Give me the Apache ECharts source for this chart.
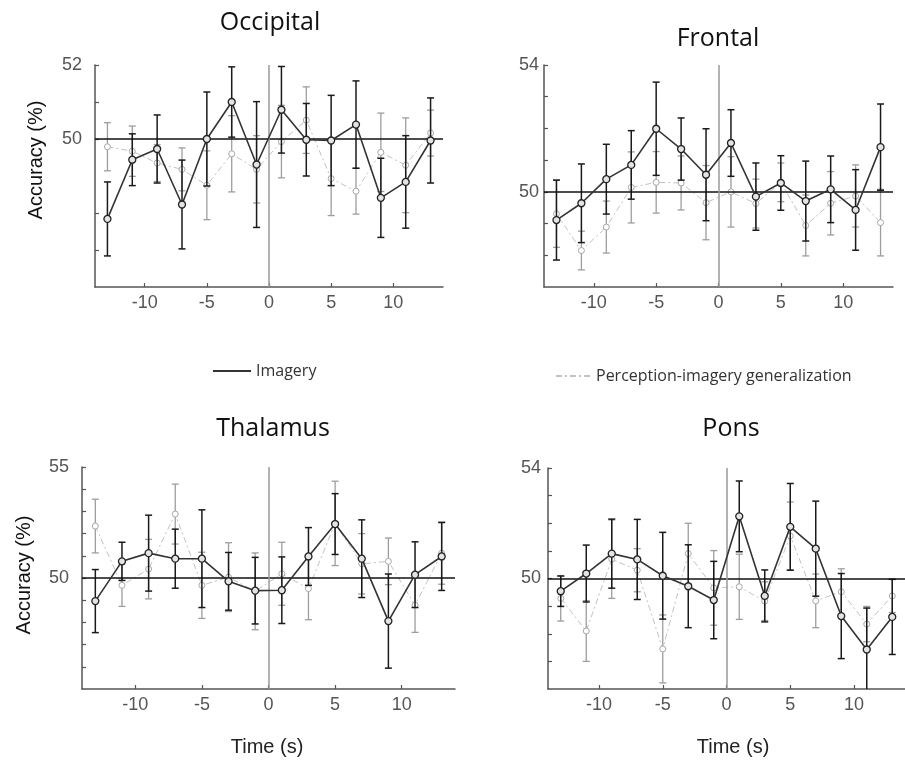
<!DOCTYPE html>
<html><head><meta charset="utf-8">
<script src="https://cdn.jsdelivr.net/npm/echarts@6/dist/echarts.min.js"></script>
<style>html,body{margin:0;padding:0;background:#fff}#c{width:905px;height:760px}</style>
</head><body><div id="c"></div>
<script>
// ---- data ----
const time = [-13, -11, -9, -7, -5, -3, -1, 1, 3, 5, 7, 9, 11, 13];
const panelNames = ['Occipital', 'Frontal', 'Thalamus', 'Pons'];

const occImagery = [47.84, 49.44, 49.73, 48.23, 50.00, 51.00, 49.31, 50.79, 49.98, 49.96, 50.39, 48.41, 48.84, 49.96];
const occImageryErr = [1.00, 0.70, 0.92, 1.20, 1.27, 0.95, 1.70, 1.17, 0.98, 1.22, 1.18, 1.07, 1.25, 1.15];
const occPercept = [49.79, 49.67, 49.35, 49.18, 48.75, 49.60, 49.18, 49.93, 50.51, 48.93, 48.59, 49.64, 49.29, 50.16];
const occPerceptErr = [0.65, 0.68, 0.50, 0.58, 0.93, 1.03, 0.91, 0.98, 0.90, 1.00, 0.62, 1.06, 1.28, 0.62];

const froImagery = [49.11, 49.64, 50.40, 50.85, 51.99, 51.35, 50.54, 51.54, 49.85, 50.28, 49.71, 50.08, 49.43, 51.41];
const froImageryErr = [1.26, 1.24, 1.10, 1.08, 1.47, 0.98, 1.45, 1.05, 1.06, 0.86, 1.26, 1.05, 1.27, 1.36];
const froPercept = [49.31, 48.15, 48.89, 50.14, 50.30, 50.28, 49.66, 50.00, 49.63, 50.30, 48.94, 49.64, 49.87, 49.03];
const froPerceptErr = [1.06, 0.61, 0.82, 1.12, 0.97, 0.85, 1.17, 1.11, 0.77, 0.61, 0.96, 1.00, 0.98, 1.05];

const thaImagery = [48.96, 50.75, 51.12, 50.87, 50.87, 49.85, 49.43, 49.45, 50.97, 52.43, 50.87, 48.06, 50.15, 50.97];
const thaImageryErr = [1.42, 0.86, 1.71, 1.33, 2.20, 1.30, 1.50, 1.50, 1.30, 1.37, 1.75, 2.12, 1.48, 1.53];
const thaPercept = [52.34, 49.67, 50.40, 52.88, 49.67, 50.04, 49.40, 50.19, 49.52, 52.46, 50.64, 50.75, 48.78, 51.12];
const thaPerceptErr = [1.21, 0.95, 1.34, 1.35, 1.49, 1.55, 1.73, 1.42, 1.40, 1.90, 1.36, 1.05, 1.23, 1.40];

const ponImagery = [49.54, 50.18, 50.90, 50.69, 50.10, 49.72, 49.22, 52.25, 49.37, 51.87, 51.08, 48.64, 47.43, 48.61];
const ponImageryErr = [0.55, 1.03, 1.25, 1.45, 1.57, 1.50, 1.40, 1.28, 0.94, 1.57, 1.72, 1.54, 1.50, 1.36];
const ponPercept = [49.28, 48.10, 50.70, 50.30, 47.45, 50.90, 49.66, 49.70, 49.18, 51.54, 49.19, 49.52, 48.35, 49.37];
const ponPerceptErr = [0.82, 1.10, 1.42, 0.78, 1.23, 1.10, 1.35, 1.18, 0.70, 1.23, 0.97, 0.83, 0.64, 0.60];

const xTicks = [-10, -5, 0, 5, 10];
const yMin = [46, 47, 45, 46];
const yMax = [52, 54, 55, 54];
const yTicks = [[47, 48, 50, 51, 52], [48, 49, 50, 51, 52, 53, 54], [46, 47, 48, 49, 50, 51, 52, 53, 54, 55], [47, 48, 49, 50, 51, 52, 53, 54]];
const yTickLabels = [[50, 52], [50, 54], [50, 55], [50, 54]];

const imagery = [occImagery, froImagery, thaImagery, ponImagery];
const imageryErr = [occImageryErr, froImageryErr, thaImageryErr, ponImageryErr];
const percept = [occPercept, froPercept, thaPercept, ponPercept];
const perceptErr = [occPerceptErr, froPerceptErr, thaPerceptErr, ponPerceptErr];

// ---- layout ----
const grids = [
  {left: 95, top: 65, width: 348, height: 222},
  {left: 544, top: 65, width: 349, height: 222},
  {left: 82, top: 467, width: 373, height: 222},
  {left: 548, top: 468, width: 367, height: 221}
];
const titlePos = [[270, 23], [718, 39], [273, 429], [731, 429]];
const yLabelMargin = [13, 5, 13, 7];

const axisColor = '#555';
const tickFont = 'Liberation Sans, Arial, sans-serif';

function errRenderer(color, width) {
  return function (params, api) {
    const x = api.value(0), y = api.value(1), e = api.value(2);
    const top = api.coord([x, y + e]);
    const bot = api.coord([x, y - e]);
    const w = 3.5;
    const style = {stroke: color, lineWidth: width};
    return {
      type: 'group',
      children: [
        {type: 'line', shape: {x1: top[0], y1: top[1], x2: bot[0], y2: bot[1]}, style: style},
        {type: 'line', shape: {x1: top[0] - w, y1: top[1], x2: top[0] + w, y2: top[1]}, style: style},
        {type: 'line', shape: {x1: bot[0] - w, y1: bot[1], x2: bot[0] + w, y2: bot[1]}, style: style}
      ]
    };
  };
}

const xAxes = [], yAxes = [], series = [], titles = [];
for (let i = 0; i < 4; i++) {
  titles.push({
    text: panelNames[i], left: titlePos[i][0], top: titlePos[i][1],
    textAlign: 'center', textVerticalAlign: 'middle', padding: 0,
    textStyle: {fontFamily: 'Open Sans', fontSize: 25, fontWeight: 'normal', color: '#111'}
  });
  xAxes.push({
    type: 'value', gridIndex: i, min: -14, max: 14,
    axisLine: {onZero: false, lineStyle: {color: axisColor, width: 1.5}},
    axisTick: {inside: true, length: 4, customValues: xTicks, lineStyle: {color: axisColor, width: 1.2}},
    axisLabel: {customValues: xTicks, fontSize: 18, color: '#555', fontFamily: tickFont, margin: 7},
    splitLine: {show: false}
  });
  yAxes.push({
    type: 'value', gridIndex: i, min: yMin[i], max: yMax[i],
    axisLine: {show: true, onZero: false, lineStyle: {color: axisColor, width: 1.5}},
    axisTick: {show: true, inside: true, length: 4, customValues: yTicks[i], lineStyle: {color: axisColor, width: 1.2}},
    axisLabel: {customValues: yTickLabels[i], fontSize: 18, color: '#555', fontFamily: tickFont, margin: yLabelMargin[i]},
    splitLine: {show: false}
  });
  // reference lines
  series.push({
    type: 'line', xAxisIndex: i, yAxisIndex: i, data: [], z: 1, silent: true,
    markLine: {
      silent: true, symbol: 'none', animation: false, label: {show: false},
      data: [
        {yAxis: 50, lineStyle: {color: '#111', width: 1.5, type: 'solid'}},
        {xAxis: 0, lineStyle: {color: '#9a9a9a', width: 1.5, type: 'solid'}}
      ]
    }
  });
  series.push({
    type: 'custom', name: 'perc-err-' + i, xAxisIndex: i, yAxisIndex: i, z: 2, clip: true,
    renderItem: errRenderer('#9d9d9d', 1.3),
    encode: {x: 0, y: 1},
    data: time.map((t, k) => [t, percept[i][k], perceptErr[i][k]])
  });
  series.push({
    type: 'line', name: 'Perception-imagery generalization', xAxisIndex: i, yAxisIndex: i, z: 3,
    symbol: 'circle', symbolSize: 6,
    itemStyle: {color: '#ffffff', borderColor: '#a8a8a8', borderWidth: 1},
    lineStyle: {color: '#c2c2c2', width: 1, type: [6, 3, 2, 3]},
    data: time.map((t, k) => [t, percept[i][k]])
  });
  series.push({
    type: 'custom', name: 'img-err-' + i, xAxisIndex: i, yAxisIndex: i, z: 4, clip: true,
    renderItem: errRenderer('#1a1a1a', 1.5),
    encode: {x: 0, y: 1},
    data: time.map((t, k) => [t, imagery[i][k], imageryErr[i][k]])
  });
  series.push({
    type: 'line', name: 'Imagery', xAxisIndex: i, yAxisIndex: i, z: 5,
    symbol: 'circle', symbolSize: 7,
    itemStyle: {color: '#e4e4e4', borderColor: '#222', borderWidth: 1.3},
    lineStyle: {color: '#333', width: 1.6},
    data: time.map((t, k) => [t, imagery[i][k]])
  });
}

const option = {
  animation: false,
  backgroundColor: '#fff',
  title: titles,
  grid: grids,
  xAxis: xAxes,
  yAxis: yAxes,
  legend: [
    {left: 212, top: 363, padding: 0, itemWidth: 38, itemHeight: 14, itemGap: 8,
     data: [{name: 'Imagery', itemStyle: {opacity: 0}}], selectedMode: false,
     textStyle: {fontFamily: 'Open Sans', fontSize: 16, color: '#333'}},
    {left: 555, top: 368, padding: 0, itemWidth: 35, itemHeight: 14, itemGap: 8,
     data: [{name: 'Perception-imagery generalization', itemStyle: {opacity: 0}}], selectedMode: false,
     textStyle: {fontFamily: 'Open Sans', fontSize: 16, color: '#333'}}
  ],
  graphic: [
    {type: 'text', x: 36, y: 160, rotation: Math.PI / 2,
     style: {text: 'Accuracy (%)', font: '20px Liberation Sans, Arial, sans-serif', fill: '#111', align: 'center', verticalAlign: 'middle'}},
    {type: 'text', x: 24, y: 575, rotation: Math.PI / 2,
     style: {text: 'Accuracy (%)', font: '20px Liberation Sans, Arial, sans-serif', fill: '#111', align: 'center', verticalAlign: 'middle'}},
    {type: 'text', x: 267, y: 747,
     style: {text: 'Time (s)', font: '20px Liberation Sans, Arial, sans-serif', fill: '#222', align: 'center', verticalAlign: 'middle'}},
    {type: 'text', x: 733, y: 747,
     style: {text: 'Time (s)', font: '20px Liberation Sans, Arial, sans-serif', fill: '#222', align: 'center', verticalAlign: 'middle'}}
  ],
  series: series
};

const chart = echarts.init(document.getElementById('c'), null, {renderer: 'canvas'});
chart.setOption(option);
</script></body></html>
